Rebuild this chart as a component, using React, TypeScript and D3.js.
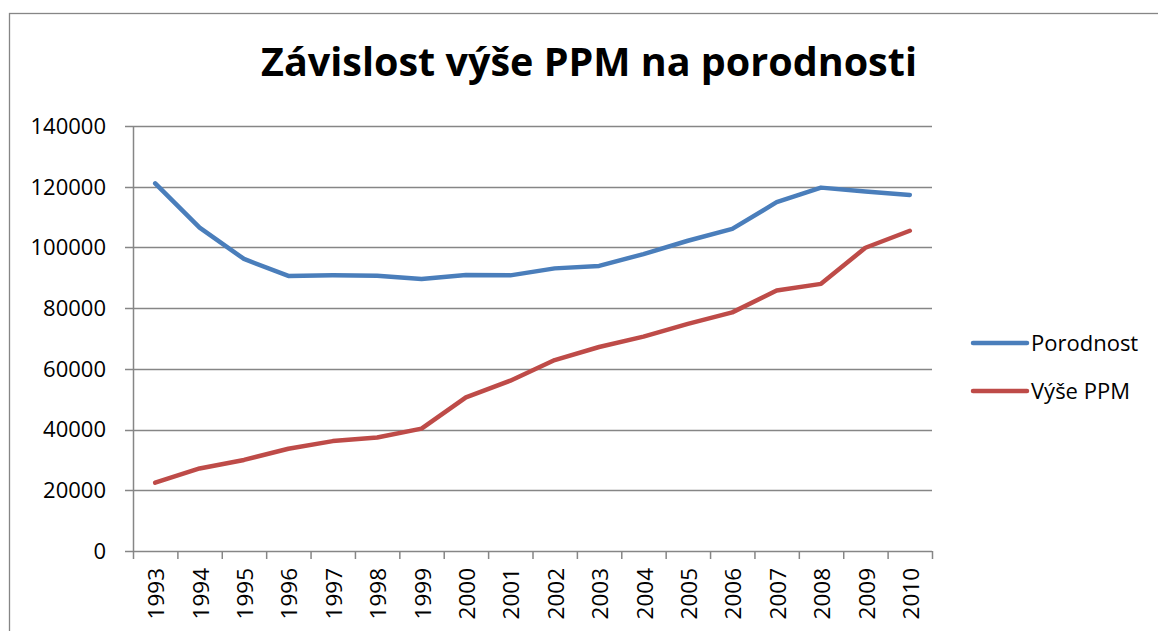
import React from "react";
import * as d3 from "d3";

const years = ["1993","1994","1995","1996","1997","1998","1999","2000","2001","2002","2003","2004","2005","2006","2007","2008","2009","2010"];
const porodnost = [121100,106500,96200,90600,90800,90700,89600,90900,90800,93100,93900,97800,102200,106100,114900,119700,118400,117300];
const vysePPM = [22500,27200,30000,33700,36200,37400,40300,50600,56100,62900,67200,70600,74800,78600,85800,88000,99900,105500];
const yTicks = [0,20000,40000,60000,80000,100000,120000,140000];
const seriesNames = ["Porodnost","Výše PPM"];
const seriesColors = ["#4A7EBB","#BE4B48"];
const title = "Závislost výše PPM na porodnosti";

const W = 1158, H = 631;
const font = "'Open Sans', sans-serif";
const grid = "#868686";

export default function App() {
  const left = 133, right = 932, top = 126, bottom = 551;
  const x = d3.scaleBand<string>().domain(years).range([left, right]).paddingInner(0).paddingOuter(0);
  const y = d3.scaleLinear().domain([0, 140000]).range([bottom, top]);
  const cx = (d: string) => (x(d) as number) + x.bandwidth() / 2;
  const line = d3.line<number>().x((_, i) => cx(years[i])).y((v) => y(v));
  const series = [porodnost, vysePPM];
  const boundaries = years.map((d) => x(d) as number).concat([right]);

  return (
    <div style={{ position: "fixed", left: 0, top: 0 }}>
      <svg width={W} height={H} style={{ display: "block", background: "#fff" }}>
        <rect x={9.5} y={13.5} width={1180} height={660} fill="#fff" stroke={grid} strokeWidth={1.3} />
        <text x={589} y={76} textAnchor="middle" fontFamily={font} fontWeight={700} fontSize={39.5} fill="#000">{title}</text>
        {yTicks.map((t) => (
          <g key={t}>
            <line x1={125} x2={right} y1={Math.round(y(t)) + 0.5} y2={Math.round(y(t)) + 0.5} stroke={grid} strokeWidth={1.5} />
            <text x={106} y={y(t)} dy="0.36em" textAnchor="end" fontFamily={font} fontSize={22} fill="#000">{t}</text>
          </g>
        ))}
        <line x1={left + 0.5} x2={left + 0.5} y1={top} y2={bottom} stroke={grid} strokeWidth={1.5} />
        {boundaries.map((b, i) => (
          <line key={i} x1={b + 0.5} x2={b + 0.5} y1={bottom} y2={bottom + 8} stroke={grid} strokeWidth={1.5} />
        ))}
        {years.map((yr) => (
          <text key={yr} transform={`translate(${cx(yr) + 1},568) rotate(-90)`} dy="0.36em" textAnchor="end" fontFamily={font} fontSize={22.5} fill="#000">{yr}</text>
        ))}
        {series.map((s, i) => (
          <path key={i} d={line(s) as string} fill="none" stroke={seriesColors[i]} strokeWidth={4.5} strokeLinejoin="round" strokeLinecap="round" />
        ))}
        {seriesNames.map((n, i) => {
          const ly = 343 + i * 48;
          return (
            <g key={n}>
              <line x1={973} x2={1027} y1={ly} y2={ly} stroke={seriesColors[i]} strokeWidth={4.5} strokeLinecap="round" />
              <text x={1031} y={ly} dy="0.36em" fontFamily={font} fontSize={22} fill="#000">{n}</text>
            </g>
          );
        })}
      </svg>
    </div>
  );
}
